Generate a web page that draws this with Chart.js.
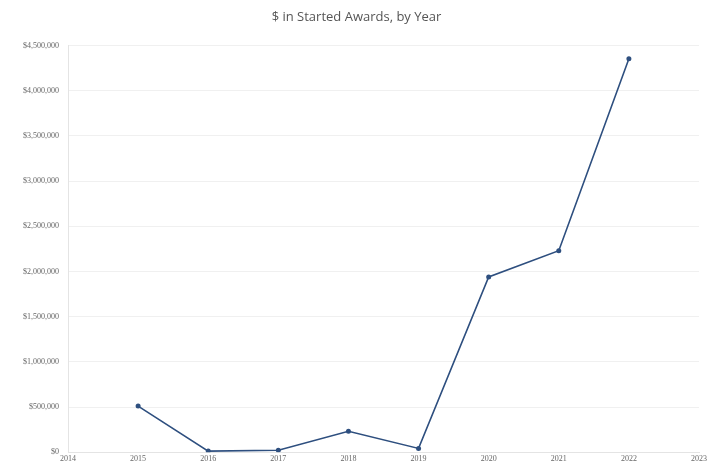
<!DOCTYPE html>
<html>
<head>
<meta charset="utf-8">
<script src="https://cdn.jsdelivr.net/npm/chart.js@4"></script>
<style>
  html, body { margin: 0; padding: 0; background: #fff; overflow: hidden; }
  #wrap { width: 716px; height: 466px; }
</style>
</head>
<body>
<div id="wrap"><canvas id="awardsChart" width="716" height="466"></canvas></div>
<script>
const years = [2015, 2016, 2017, 2018, 2019, 2020, 2021, 2022];
const awards = [510000, 12000, 22000, 232000, 42000, 1940000, 2230000, 4355000];
const xTicks = [2014, 2023];
const yTicks = [0, 4500000, 500000];

const lineColor = '#2e4f7f';
const textColor = '#666';

const canvas = document.getElementById('awardsChart');
new Chart(canvas.getContext('2d'), {
  type: 'line',
  data: {
    datasets: [{
      label: '$ in Started Awards',
      data: years.map((y, i) => ({ x: y, y: awards[i] })),
      borderColor: lineColor,
      backgroundColor: lineColor,
      borderWidth: 1.6,
      pointRadius: 2.5,
      pointBackgroundColor: lineColor,
      pointBorderWidth: 0,
      tension: 0
    }]
  },
  options: {
    responsive: false,
    animation: false,
    layout: { padding: { left: 14, right: 17, top: 0, bottom: 0 } },
    plugins: {
      legend: { display: false },
      tooltip: { enabled: false },
      title: {
        display: true,
        text: '$ in Started Awards, by Year',
        color: '#555',
        font: { family: 'Open Sans', size: 13, weight: 'normal' },
        padding: { top: 9, bottom: 21 }
      }
    },
    scales: {
      x: {
        type: 'linear',
        min: xTicks[0],
        max: xTicks[1],
        ticks: {
          stepSize: 1,
          color: textColor,
          font: { family: 'Liberation Serif', size: 8 },
          padding: 2,
          callback: v => String(v)
        },
        grid: { display: false, drawTicks: false },
        border: { color: '#e4e4e4' }
      },
      y: {
        min: yTicks[0],
        max: yTicks[1],
        ticks: {
          stepSize: yTicks[2],
          color: textColor,
          font: { family: 'Liberation Serif', size: 8 },
          padding: 9,
          callback: v => '$' + v.toLocaleString('en-US')
        },
        grid: { color: '#f0f0f0', drawTicks: false },
        border: { color: '#e4e4e4' }
      }
    }
  }
});
</script>
</body>
</html>
